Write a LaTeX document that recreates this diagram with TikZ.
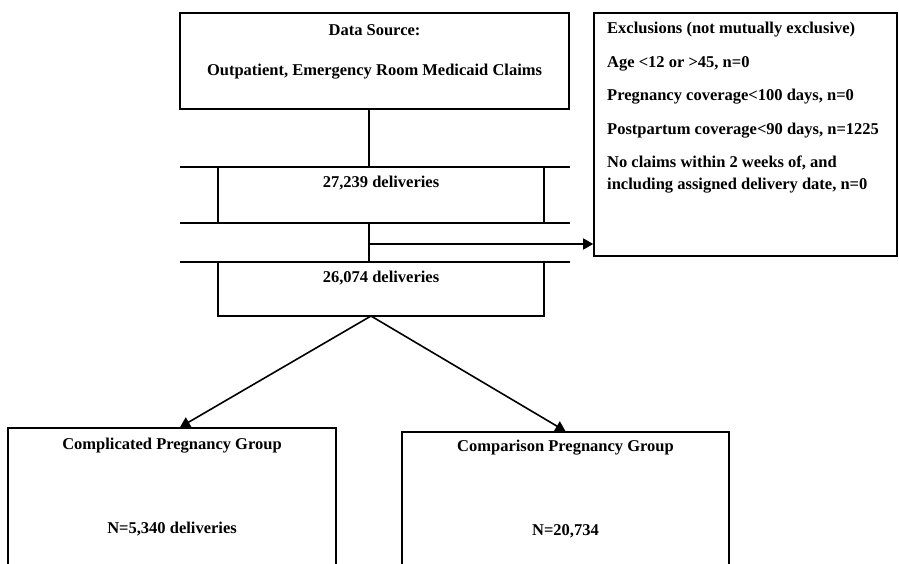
\documentclass[tikz,border=0pt]{standalone}
\usepackage{fontspec}
\setmainfont{Liberation Serif}
\usepackage{tikz}
\usetikzlibrary{arrows.meta,positioning}

\begin{document}
\begin{tikzpicture}[x=1pt, y=-1pt,
  box/.style={rectangle, draw, line width=1.6pt, inner sep=0pt},
  txt/.style={font=\bfseries\fontsize{16.5}{19}\selectfont, inner sep=0pt},
  link/.style={line width=1.6pt},
  tip/.style={line width=1.6pt, -{Triangle[length=10pt, width=11pt]}},
]
\clip (0,0) rectangle (899,564);
% source and the two count boxes
\node[box, minimum width=389pt, minimum height=96pt] (src) at (374.5,61) {};
\node[txt] (srcA) at (374.5,30) {Data Source:};
\node[txt] (srcB) at (374.5,72) {Outpatient, Emergency Room Medicaid Claims};
\draw[link] (180,167) -- (570,167);
\draw[link] (180,223) -- (570,223);
\draw[link] (180,262) -- (570,262);
\node[box, minimum width=326pt, minimum height=56pt] (cnt1) at (381,195) {};
\node[txt] (cnt1t) at (381,183) {27,239 deliveries};
\node[box, minimum width=326pt, minimum height=54pt] (cnt2) at (381,289) {};
\node[txt] (cnt2t) at (381,278) {26,074 deliveries};
% exclusions
\node[box, minimum width=303pt, minimum height=243pt] (excl) at (745.5,134.5) {};
\node[txt, anchor=west] (ex0) at (607,30) {Exclusions (not mutually exclusive)};
\node[txt, anchor=west] (ex1) at (607,64) {Age <12 or >45, n=0};
\node[txt, anchor=west] (ex2) at (607,97) {Pregnancy coverage<100 days, n=0};
\node[txt, anchor=west] (ex3) at (607,131) {Postpartum coverage<90 days, n=1225};
\node[txt, anchor=west] (ex4) at (607,163) {No claims within 2 weeks of, and};
\node[txt, anchor=west] (ex5) at (607,186) {including assigned delivery date, n=0};
% groups
\node[box, minimum width=328pt, minimum height=172pt] (grpA) at (172,514) {};
\node[txt] (grpAt) at (172,446) {Complicated Pregnancy Group};
\node[txt] (grpAn) at (172,529) {N=5,340 deliveries};
\node[box, minimum width=327pt, minimum height=168pt] (grpB) at (565.5,516) {};
\node[txt] (grpBt) at (565.5,448) {Comparison Pregnancy Group};
\node[txt] (grpBn) at (565.5,531) {N=20,734};
% connectors
\coordinate (stem) at (369,0);
\coordinate (tap) at (369,244);
\coordinate (fork) at (371,316);
\draw[link] (src.south -| stem) -- (cnt1.north -| stem);
\draw[link] (cnt1.south -| stem) -- (cnt2.north -| stem);
\draw[tip] (tap) -- (tap -| excl.west);
\draw[tip] (fork) -- ([xshift=8pt]grpA.north);
\draw[tip] (fork) -- (grpB.north);
\end{tikzpicture}
\end{document}
